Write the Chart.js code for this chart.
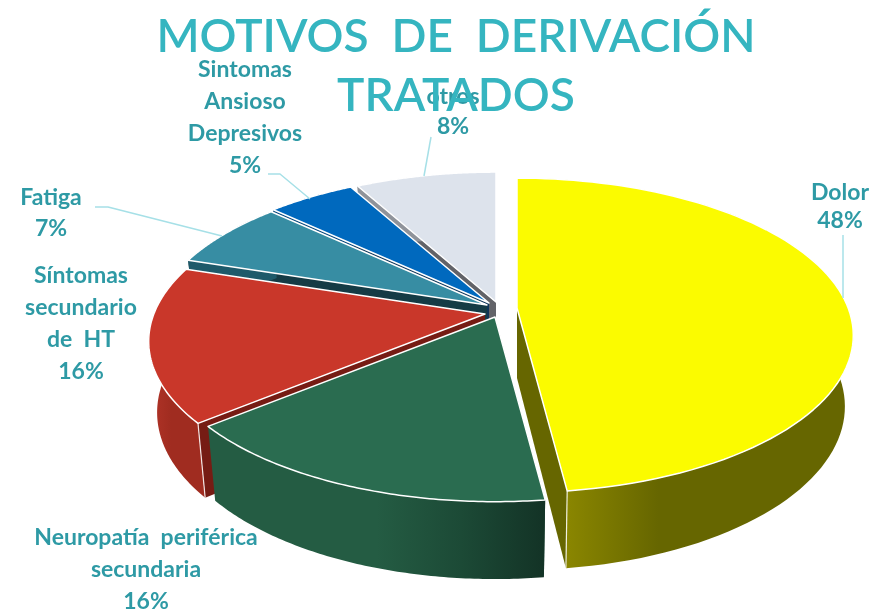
<!DOCTYPE html>
<html><head><meta charset="utf-8">
<style>html,body{margin:0;padding:0;background:#fff}#box{position:relative;width:876px;height:615px}</style>
<script src="https://cdn.jsdelivr.net/npm/chart.js@4"></script>
</head><body><div id="box"><canvas id="c" width="876" height="615"></canvas></div>
<script>
const categories = ['Dolor','Neuropatía periférica secundaria','Síntomas secundario de HT','Fatiga','Sintomas Ansioso Depresivos','otros'];
const values = [48,16,16,7,5,8];
const titleLines = ['MOTIVOS  DE  DERIVACIÓN','TRATADOS'];
const labelLines = [['Dolor','48%'],['Neuropatía  periférica','secundaria','16%'],['Síntomas','secundario','de  HT','16%'],['Fatiga','7%'],['Sintomas','Ansioso','Depresivos','5%'],['otros','8%']];

const topColors  = ['#FBFB00','#2A6C50','#C9372A','#378DA3','#0069BE','#DDE3EC'];
const cutColors  = ['#666600','#1B4A36','#761C14','#153B45','#0F3558','#626368'];
const sideStops  = [['#8B8700','#666600','#666600'],['#245C43','#1C4A36','#133326'],['#A72F24','#AE3226','#A02C20'],['#1E5A6A','#1E5A6A','#1E5A6A'],['#00437A','#00437A','#00437A'],['#8F939A','#8F939A','#8F939A']];
const sliceShift = [[61,-2],[39,7],[29,4],[31,-5],[33,-7],[40,-8]];
const drawOrder = [5,4,3,2,0,1];
const KX=1.8, KY=0.829, PERSP=0.174, DEPTH=70, BOTTOM_X=0.975, BOTTOM_Y=1.04;
const labelPlace = [[840,193,28],[146,538,32],[81,276,32],[51,198,31],[245,70,32],[453,97,30]];
const leaders = [[[843,235],[843,298]],[[214,0],[214,0]],[[0,0],[0,0]],[[95,207],[108,207],[222,236]],[[268,174],[280,174],[310,199]],[[431,137],[424,176]]];

function project(el,i,th,bottom){
  const u=Math.sin(th), v=-Math.cos(th), w=1-PERSP*v, R=el.outerRadius;
  const ax=el.x+sliceShift[i][0], ay=el.y+sliceShift[i][1];
  let dx=R*KX*u/w, dy=R*KY*v/w;
  if(bottom){dx*=BOTTOM_X; dy=DEPTH+dy*BOTTOM_Y;}
  return [ax+dx,ay+dy];
}
function apex(el,i,bottom){
  return [el.x+sliceShift[i][0], el.y+sliceShift[i][1]+(bottom?DEPTH:0)];
}
function arcPts(el,i,bottom){
  const a=el.startAngle+Math.PI/2, b=el.endAngle+Math.PI/2, n=90, pts=[];
  for(let k=0;k<=n;k++) pts.push(project(el,i,a+(b-a)*k/n,bottom));
  return pts;
}
function path(ctx,pts){ctx.beginPath();pts.forEach((p,k)=>k?ctx.lineTo(p[0],p[1]):ctx.moveTo(p[0],p[1]));ctx.closePath();}

const pie3d = {
  id:'pie3d',
  beforeDraw(chart){
    const ctx=chart.ctx, els=chart.getDatasetMeta(0).data;
    ctx.save();
    ctx.lineJoin='round';
    drawOrder.forEach(i=>{
      const el=els[i], top=arcPts(el,i,false), bot=arcPts(el,i,true);
      // cut face
      const useEnd = i===0;
      const tc = useEnd? top[top.length-1]:top[0], bc = useEnd? bot[bot.length-1]:bot[0];
      path(ctx,[apex(el,i,false),tc,bc,apex(el,i,true)]);
      ctx.fillStyle=cutColors[i]; ctx.fill();
      // outer side
      const xs=top.concat(bot).map(p=>p[0]);
      let x0=Math.min(...xs), x1=Math.max(...xs);
      const g=ctx.createLinearGradient(x0,0,x1,0);
      const st=sideStops[i];
      if(i===0){g.addColorStop(0,st[0]);g.addColorStop(0.14,st[0]);g.addColorStop(0.42,st[1]);g.addColorStop(1,st[2]);}
      else if(i===1){const l=0.5;g.addColorStop(0,st[0]);g.addColorStop(l,st[0]);g.addColorStop(0.75,st[1]);g.addColorStop(1,st[2]);}
      else if(i===2){g.addColorStop(0,st[0]);g.addColorStop(0.1,st[1]);g.addColorStop(0.4,st[2]);g.addColorStop(1,st[2]);}
      else {g.addColorStop(0,st[0]);g.addColorStop(1,st[2]);}
      path(ctx,top.concat(bot.slice().reverse()));
      ctx.fillStyle=g; ctx.fill();
      // vertical front edge
      ctx.strokeStyle='rgba(255,255,255,.85)';ctx.lineWidth=1.2;
      if(i===0||i===1||i===2){
        const p=useEnd?top[top.length-1]:(i===1?top[top.length-1]:top[top.length-1]);
        const q=useEnd?bot[bot.length-1]:(i===1?bot[bot.length-1]:bot[bot.length-1]);
        if(i===0){ctx.beginPath();ctx.moveTo(p[0],p[1]);ctx.lineTo(q[0],q[1]);ctx.stroke();}
      }
      if(i===2){const p=top[0],q=bot[0];ctx.beginPath();ctx.moveTo(p[0],p[1]);ctx.lineTo(q[0],q[1]);ctx.stroke();}
      // top face
      path(ctx,[apex(el,i,false)].concat(top));
      ctx.fillStyle=topColors[i]; ctx.fill();
      ctx.strokeStyle='#fff'; ctx.lineWidth=1.5; ctx.stroke();
    });
    // leader lines
    ctx.strokeStyle='#A6E0E7'; ctx.lineWidth=1.5;
    leaders.forEach(l=>{ctx.beginPath();l.forEach((p,k)=>k?ctx.lineTo(p[0],p[1]):ctx.moveTo(p[0],p[1]));ctx.stroke();});
    // labels
    ctx.font='bold 23px Lato'; ctx.fillStyle='#2E9AA5'; ctx.textAlign='center'; ctx.textBaseline='middle';
    labelLines.forEach((lines,i)=>{
      const [x,y,h]=labelPlace[i];
      lines.forEach((t,k)=>ctx.fillText(t,x,y+k*h));
    });
    ctx.restore();
  },
  beforeDatasetsDraw(){ return false; }
};

new Chart(document.getElementById('c'),{
  type:'pie',
  data:{labels:categories,datasets:[{data:values,backgroundColor:topColors,borderWidth:0}]},
  options:{
    responsive:false,animation:false,rotation:0,
    layout:{padding:{left:36,right:0,top:0,bottom:121}},
    plugins:{
      legend:{display:false},tooltip:{enabled:false},
      title:{display:true,text:titleLines,color:'#35B5C0',align:'center',
        font:{family:'Lato',size:46,weight:'600',lineHeight:1.283},padding:{top:8,bottom:0}}
    }
  },
  plugins:[pie3d]
});
</script></body></html>
